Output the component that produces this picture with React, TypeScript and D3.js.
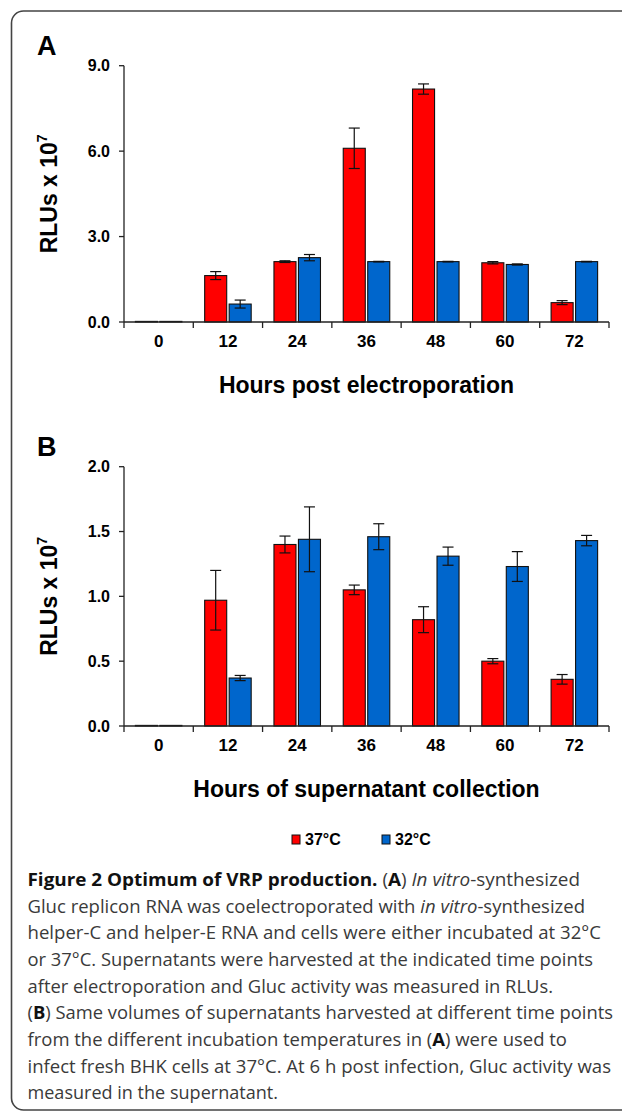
import React from 'react';
import * as d3 from 'd3';

// hours post electroporation / supernatant collection
const hours = ['0', '12', '24', '36', '48', '60', '72'];
const temps = ['37°C', '32°C'];

// panel A: RLUs x 10^7
const a37 = [0, 1.63, 2.12, 6.1, 8.18, 2.08, 0.68];
const a37Err = [0, 0.14, 0.03, 0.71, 0.18, 0.04, 0.07];
const a32 = [0, 0.63, 2.26, 2.12, 2.12, 2.02, 2.12];
const a32Err = [0, 0.14, 0.11, 0.01, 0.01, 0.02, 0.01];

// panel B: RLUs x 10^7
const b37 = [0, 0.97, 1.4, 1.05, 0.82, 0.5, 0.36];
const b37Err = [0, 0.23, 0.065, 0.037, 0.1, 0.02, 0.037];
const b32 = [0, 0.37, 1.44, 1.46, 1.31, 1.23, 1.43];
const b32Err = [0, 0.02, 0.25, 0.1, 0.07, 0.115, 0.04];

const aTicks = [0, 3, 6, 9];
const bTicks = [0, 0.5, 1, 1.5, 2];

type Seg = [string, '' | 'b' | 'i'];
const captionLines: Seg[][] = [
  [['Figure 2 Optimum of VRP production.', 'b'], [' (', ''], ['A', 'b'], [') ', ''], ['In vitro', 'i'], ['-synthesized', '']],
  [['Gluc replicon RNA was coelectroporated with ', ''], ['in vitro', 'i'], ['-synthesized', '']],
  [['helper-C and helper-E RNA and cells were either incubated at 32°C', '']],
  [['or 37°C. Supernatants were harvested at the indicated time points', '']],
  [['after electroporation and Gluc activity was measured in RLUs.', '']],
  [['(', ''], ['B', 'b'], [') Same volumes of supernatants harvested at different time points', '']],
  [['from the different incubation temperatures in (', ''], ['A', 'b'], [') were used to', '']],
  [['infect fresh BHK cells at 37°C. At 6 h post infection, Gluc activity was', '']],
  [['measured in the supernatant.', '']],
];
// right edge of every caption line in the reference
const captionEnds = [580, 585, 601, 593, 553, 613, 567, 611, 278];

const COLORS = ['#ff0000', '#0066cc'];
const FONT = '"Liberation Sans", Arial, Helvetica, sans-serif';
const X0 = 124;
const X1 = 609;

interface PanelProps {
  letter: string;
  s37: number[];
  e37: number[];
  s32: number[];
  e32: number[];
  max: number;
  ticks: number[];
  yTop: number;
  yBottom: number;
  title: string;
}

const Panel: React.FC<PanelProps> = ({ letter, s37, e37, s32, e32, max, ticks, yTop, yBottom, title }) => {
  const x = d3.scaleBand<string>().domain(hours).range([X0, X1]);
  const inner = d3.scaleBand<string>().domain(temps).range([0, x.bandwidth()]).paddingInner(0.1).paddingOuter(0.465);
  const y = d3.scaleLinear().domain([0, max]).range([yBottom, yTop]);
  const fmt = d3.format('.1f');
  const series = [
    { vals: s37, errs: e37 },
    { vals: s32, errs: e32 },
  ];

  return (
    <g>
      <text x={37} y={yTop - 11} fontFamily={FONT} fontWeight="bold" fontSize={27}>{letter}</text>

      {series.map((s, si) =>
        hours.map((h, i) => {
          const bx = (x(h) ?? 0) + (inner(temps[si]) ?? 0);
          const w = inner.bandwidth();
          const top = y(s.vals[i]);
          const ht = Math.max(yBottom - top, 0.6);
          const cx = bx + w / 2;
          const err = s.errs[i];
          return (
            <g key={`${si}-${h}`}>
              <rect x={bx} y={yBottom - ht} width={w} height={ht} fill={COLORS[si]} stroke="#111" strokeWidth={1.1} />
              {err > 0 && (
                <g stroke="#111" strokeWidth={1.2}>
                  <line x1={cx} x2={cx} y1={y(s.vals[i] + err)} y2={y(s.vals[i] - err)} />
                  <line x1={cx - 5.5} x2={cx + 5.5} y1={y(s.vals[i] + err)} y2={y(s.vals[i] + err)} />
                  <line x1={cx - 5.5} x2={cx + 5.5} y1={y(s.vals[i] - err)} y2={y(s.vals[i] - err)} />
                </g>
              )}
            </g>
          );
        })
      )}

      {/* y axis */}
      <line x1={X0} x2={X0} y1={yTop} y2={yBottom} stroke="#222" strokeWidth={1.3} />
      {ticks.map(t => (
        <g key={t}>
          <line x1={X0 - 5} x2={X0} y1={y(t)} y2={y(t)} stroke="#222" strokeWidth={1.3} />
          <text x={110} y={y(t) + 5.5} textAnchor="end" fontFamily={FONT} fontWeight="bold" fontSize={16}>{fmt(t)}</text>
        </g>
      ))}

      {/* x axis */}
      <line x1={X0} x2={X1} y1={yBottom} y2={yBottom} stroke="#222" strokeWidth={1.3} />
      {[...hours.map(h => x(h) ?? 0), X1].map((tx, i) => (
        <line key={i} x1={tx} x2={tx} y1={yBottom} y2={yBottom + 6} stroke="#222" strokeWidth={1.3} />
      ))}
      {hours.map(h => (
        <text key={h} x={(x(h) ?? 0) + x.bandwidth() / 2} y={yBottom + 25} textAnchor="middle"
          fontFamily={FONT} fontWeight="bold" fontSize={17}>{h}</text>
      ))}

      <text x={(X0 + X1) / 2} y={yBottom + 71} textAnchor="middle" fontFamily={FONT} fontWeight="bold" fontSize={23}>{title}</text>

      <text transform={`translate(57,${(yTop + yBottom) / 2}) rotate(-90)`} textAnchor="middle"
        fontFamily={FONT} fontWeight="bold" fontSize={23}>
        RLUs x 10<tspan fontSize={14} dy={-10}>7</tspan>
      </text>
    </g>
  );
};

const App: React.FC = () => {
  const legendX = [292, 382];
  return (
    <svg width={622} height={1112} style={{ position: 'absolute', left: 0, top: 0, background: '#fff' }}>
      <rect x={11.5} y={11} width={660} height={1099} rx={12} fill="none" stroke="#444" strokeWidth={1.6} />

      <Panel letter="A" s37={a37} e37={a37Err} s32={a32} e32={a32Err} max={9} ticks={aTicks}
        yTop={65.7} yBottom={322} title="Hours post electroporation" />
      <Panel letter="B" s37={b37} e37={b37Err} s32={b32} e32={b32Err} max={2} ticks={bTicks}
        yTop={466.7} yBottom={726} title="Hours of supernatant collection" />

      {temps.map((t, i) => (
        <g key={t}>
          <rect x={legendX[i]} y={835} width={8} height={9} fill={COLORS[i]} stroke="#111" strokeWidth={1} />
          <text x={legendX[i] + 13} y={844.5} fontFamily={FONT} fontWeight="bold" fontSize={16}>{t}</text>
        </g>
      ))}

      {captionLines.map((segs, li) => (
        <text key={li} x={27.5} y={886 + li * 26.65} fontFamily='"Open Sans", "Noto Sans", sans-serif' fontSize={17.5}
          fill="#3a3a3a" textLength={captionEnds[li] - 27.5} lengthAdjust="spacingAndGlyphs">
          {segs.map(([s, st], si) => (
            <tspan key={si} fontWeight={st === 'b' ? 'bold' : 'normal'} fontStyle={st === 'i' ? 'italic' : 'normal'}
              fill={st === 'b' ? '#111' : '#3a3a3a'}>{s}</tspan>
          ))}
        </text>
      ))}
    </svg>
  );
};

export default App;
